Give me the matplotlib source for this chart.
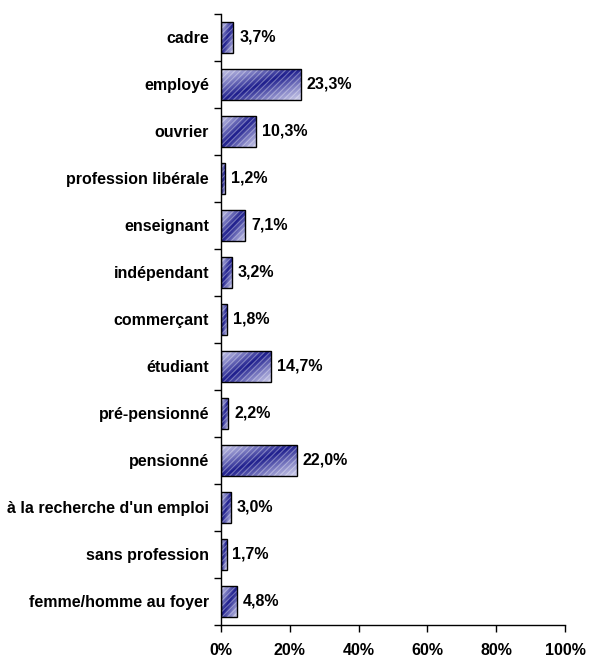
import matplotlib
matplotlib.use("Agg")
import matplotlib.pyplot as plt
from matplotlib.colors import LinearSegmentedColormap
import numpy as np

categories = ["cadre", "employé", "ouvrier", "profession libérale", "enseignant",
              "indépendant", "commerçant", "étudiant", "pré-pensionné", "pensionné",
              "à la recherche d'un emploi", "sans profession", "femme/homme au foyer"]
values = [3.7, 23.3, 10.3, 1.2, 7.1, 3.2, 1.8, 14.7, 2.2, 22.0, 3.0, 1.7, 4.8]
xticks = [0, 20, 40, 60, 80, 100]

plt.rcParams['font.family'] = ['Liberation Sans', 'DejaVu Sans']
plt.rcParams['hatch.linewidth'] = 0.8

fig = plt.figure(figsize=(5.95, 6.57), dpi=100)
ax = fig.add_axes([0.371, 0.0487, 0.579, 0.9303])

cmap = LinearSegmentedColormap.from_list(
    'g', ['#d0d0ec', '#8080c4', '#1c1c8c', '#8080c4', '#d0d0ec'])
n = 64
uu, vv = np.meshgrid(np.linspace(0, 1, n), np.linspace(0, 1, n))
grad = (uu + vv) / 2.0  # diagonal gradient (rows go top->bottom with origin upper)

y = np.arange(len(categories))
h = 0.66
ax.set_xlim(0, 100)
ax.set_ylim(len(categories) - 0.5, -0.5)

base = ax.barh(y, values, height=h, color='none', edgecolor='none')
for rect, v, yi in zip(base, values, y):
    im = ax.imshow(grad, cmap=cmap, extent=[0, v, yi + h / 2, yi - h / 2],
                   origin='upper', aspect='auto', interpolation='bilinear', zorder=2)
    im.set_clip_path(rect)
ax.barh(y, values, height=h, color='none', edgecolor=(1, 1, 1, 0.35),
        linewidth=0, hatch='//////', zorder=3)
ax.barh(y, values, height=h, color='none', edgecolor='black', linewidth=1.0, zorder=4)

for yi, v in zip(y, values):
    ax.text(v + 1.7, yi, f"{v:.1f}%".replace('.', ','), va='center', ha='left',
            fontsize=11.5, fontweight='bold')

ax.set_xlim(0, 100)
ax.set_ylim(len(categories) - 0.5, -0.5)
ax.set_xticks(xticks)
ax.set_xticklabels([f"{t}%" for t in xticks], fontsize=11.5, fontweight='bold')
ax.set_yticks(y)
ax.set_yticklabels(categories, fontsize=11.5, fontweight='bold')
ax.tick_params(axis='y', length=0, pad=8.5)
ax.set_yticks(np.arange(-0.5, len(categories) + 0.5, 1), minor=True)
ax.tick_params(axis='y', which='minor', length=5, width=1, direction='out')
ax.tick_params(axis='x', length=5, width=1, direction='out', pad=8)
for s in ['top', 'right']:
    ax.spines[s].set_visible(False)
for s in ['left', 'bottom']:
    ax.spines[s].set_linewidth(1)

fig.savefig("out.png", dpi=100)
